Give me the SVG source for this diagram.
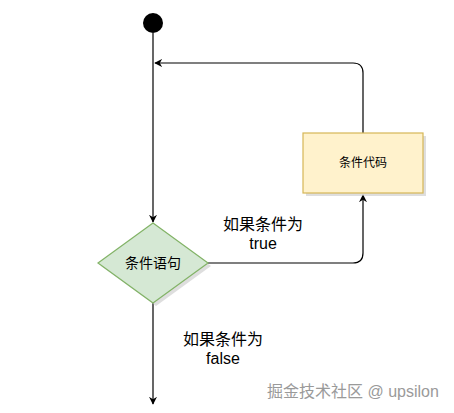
<svg xmlns="http://www.w3.org/2000/svg" width="454" height="413" viewBox="0 0 454 413">
<style>
.ln{fill:none;stroke:#000;stroke-width:1.2}
.t{font-family:"Liberation Sans","Noto Sans CJK SC",sans-serif;fill:#000;text-anchor:middle}
.wm{font-family:"Liberation Sans","Noto Sans CJK SC",sans-serif;fill:#9a9a9a;font-size:16px}
</style>
<defs>
<marker id="ah" viewBox="0 0 10 10" refX="9" refY="5" markerWidth="8" markerHeight="8" markerUnits="userSpaceOnUse" orient="auto">
<path d="M0,0 L10,5 L0,10 L3,5 Z" fill="#000"/>
</marker>
</defs>
<rect width="454" height="413" fill="#fff"/>
<g id="connectors">
<path class="ln" d="M153,33 V222" marker-end="url(#ah)"/>
<path class="ln" d="M363,133 V73 Q363,63 353,63 H155" marker-end="url(#ah)"/>
<path class="ln" d="M208,263 H353 Q363,263 363,253 V195" marker-end="url(#ah)"/>
<path class="ln" d="M153,303 V404" marker-end="url(#ah)"/>
</g>
<g id="start"><circle cx="153" cy="23" r="10" fill="#000"/></g>
<g id="code">
<rect x="306" y="136" width="120" height="60" fill="#c8c8c8" opacity="0.6"/>
<rect x="303" y="133" width="120" height="60" fill="#fff2cc" stroke="#d6b656" stroke-width="1.2"/>
<text class="t" x="363" y="167" font-size="12">条件代码</text>
</g>
<g id="cond">
<path d="M156,226 L211,266 L156,306 L101,266 Z" fill="#c8c8c8" opacity="0.6"/>
<path d="M153,223 L208,263 L153,303 L98,263 Z" fill="#d5e8d4" stroke="#82b366" stroke-width="1.2"/>
<text class="t" x="153" y="268" font-size="14">条件语句</text>
</g>
<g id="labels">
<text class="t" x="263" y="230" font-size="16">如果条件为</text>
<text class="t" x="263" y="249" font-size="16">true</text>
<text class="t" x="223" y="345" font-size="16">如果条件为</text>
<text class="t" x="223" y="364" font-size="16">false</text>
</g>
<text class="wm" x="267" y="397">掘金技术社区 @ upsilon</text>
</svg>
